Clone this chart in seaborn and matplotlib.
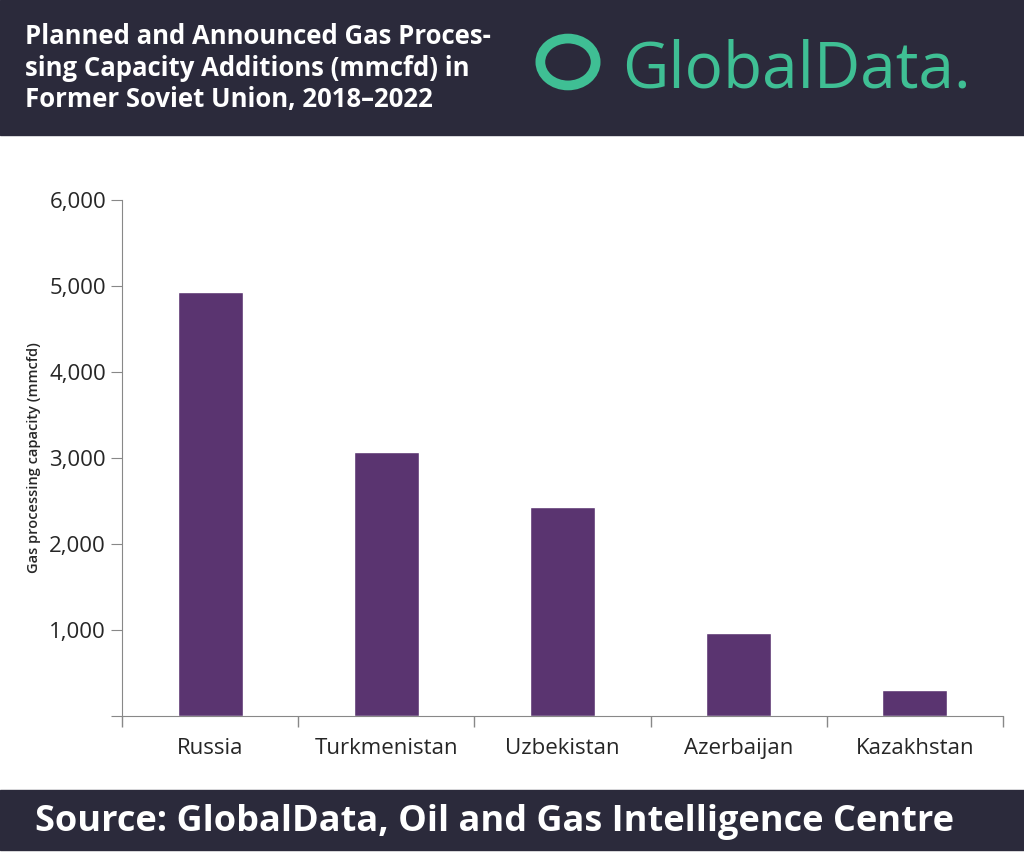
import matplotlib
matplotlib.use("Agg")
import matplotlib.pyplot as plt
import seaborn as sns
import pandas as pd
from matplotlib.patches import Rectangle, Circle
from matplotlib.ticker import FuncFormatter, FixedLocator

countries = ["Russia", "Turkmenistan", "Uzbekistan", "Azerbaijan", "Kazakhstan"]
capacity = [4930, 3070, 2430, 970, 300]

df = pd.DataFrame({"country": countries, "capacity": capacity})

sns.set_style("white")
plt.rcParams["font.family"] = ["Open Sans", "DejaVu Sans"]

fig = plt.figure(figsize=(10.24, 8.68), dpi=100)
dark = "#2b2a3b"
green = "#3fbf94"

# header and footer bands
fig.patches.append(Rectangle((0, 1 - 135 / 868), 1, 135 / 868, transform=fig.transFigure, color=dark, zorder=0))
fig.patches.append(Rectangle((0, 1 - 850 / 868), 1, 60 / 868, transform=fig.transFigure, color=dark, zorder=0))

fig.text(25 / 1024, 1 - 68 / 868, "Planned and Announced Gas Proces-\nsing Capacity Additions (mmcfd) in\nFormer Soviet Union, 2018\u20132022",
         color="white", fontsize=18.5, fontweight="bold", va="center", ha="left", linespacing=1.2)
fig.text(622 / 1024, 1 - 70 / 868, "GlobalData.", color=green, fontsize=46, va="center", ha="left")
fig.patches.append(Circle((568 / 1024, 1 - 62 / 868), 0.027, transform=fig.transFigure,
                          fill=False, ec=green, lw=7, zorder=3))
fig.text(35 / 1024, 1 - 822 / 868, "Source: GlobalData, Oil and Gas Intelligence Centre",
         color="white", fontsize=26, fontweight="bold", va="center", ha="left")

ax = fig.add_axes([122 / 1024, 1 - 716 / 868, (1003 - 122) / 1024, (716 - 200) / 868])
sns.barplot(data=df, x="country", y="capacity", color="#5a3470", width=0.37, ax=ax, saturation=1)
ax.set_ylim(0, 6000)
ax.set_xlim(-0.5, 4.5)
ax.yaxis.set_major_formatter(FuncFormatter(lambda v, p: f"{int(v):,}" if v > 0 else ""))
ax.set_yticks(range(0, 6001, 1000))
ax.set_xlabel("")
ax.set_ylabel("Gas processing capacity (mmcfd)", fontsize=10.5, fontweight="semibold", labelpad=6)
ax.xaxis.set_minor_locator(FixedLocator([-0.5, 0.5, 1.5, 2.5, 3.5, 4.5]))
ax.tick_params(axis="x", which="major", length=0, labelsize=16, pad=16)
ax.tick_params(axis="x", which="minor", bottom=True, length=8, width=1, color="#888888", direction="out")
ax.tick_params(axis="y", length=8, color="#888888", labelsize=16, direction="out", left=True)
for s in ["top", "right"]:
    ax.spines[s].set_visible(False)
for s in ["left", "bottom"]:
    ax.spines[s].set_color("#888888")

fig.savefig("out.png", dpi=100)
